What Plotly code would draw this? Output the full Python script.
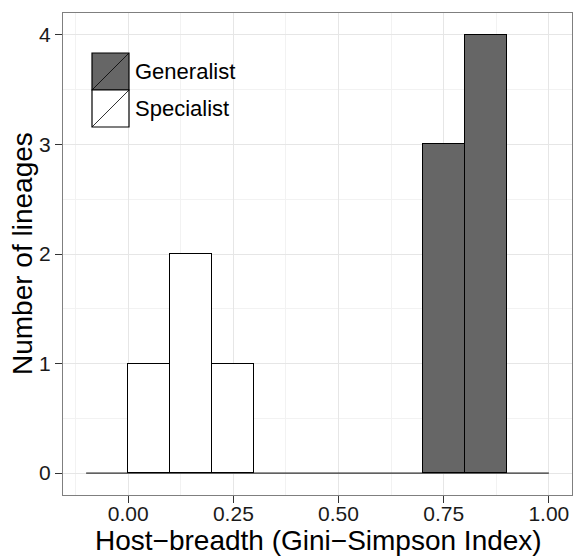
import plotly.graph_objects as go

# ---- data ----
bin_edges = [-0.1, 0.0, 0.1, 0.2, 0.3, 0.4, 0.5, 0.6, 0.7, 0.8, 0.9, 1.0]
generalist_counts = [0, 0, 0, 0, 0, 0, 0, 0, 3, 4, 0]
specialist_counts = [0, 1, 2, 1, 0, 0, 0, 0, 0, 0, 0]
groups = ["Generalist", "Specialist"]
group_colors = {"Generalist": "#666666", "Specialist": "#ffffff"}
x_ticks = [0.0, 0.25, 0.5, 0.75, 1.0]
x_tick_labels = ["0.00", "0.25", "0.50", "0.75", "1.00"]
y_ticks = [0, 1, 2, 3, 4]
x_title = "Host\u2212breadth (Gini\u2212Simpson Index)"
y_title = "Number of lineages"

centers = [(a + b) / 2 for a, b in zip(bin_edges[:-1], bin_edges[1:])]
widths = [b - a for a, b in zip(bin_edges[:-1], bin_edges[1:])]

fig = go.Figure()
for name, counts in [("Generalist", generalist_counts), ("Specialist", specialist_counts)]:
    xs = [c for c, n in zip(centers, counts) if n > 0]
    ws = [w for w, n in zip(widths, counts) if n > 0]
    ys = [n for n in counts if n > 0]
    fig.add_trace(go.Bar(
        x=xs, y=ys, width=ws, name=name,
        marker=dict(color=group_colors[name], line=dict(color="black", width=1)),
        showlegend=False,
    ))

# zero-height baseline of the histogram (outlined empty bins)
fig.add_trace(go.Scatter(
    x=[bin_edges[0], bin_edges[-1]], y=[0, 0], mode="lines",
    line=dict(color="black", width=1), showlegend=False, hoverinfo="skip",
))

# ---- manual ggplot-style legend ----
W, H = 574, 557
ml, mr, mt, mb = 63, 2, 13, 62
pw, ph = W - ml - mr, H - mt - mb

def px(x):
    return (x - ml) / pw

def py(y):
    return (H - mb - y) / ph

key_l, key_r = 92, 129
key_tops = [53, 90]
key_h = 37
shapes = []
annotations = []
for name, top in zip(groups, key_tops):
    shapes.append(dict(type="rect", xref="paper", yref="paper",
                       x0=px(key_l), x1=px(key_r), y0=py(top + key_h), y1=py(top),
                       fillcolor=group_colors[name], line=dict(color="black", width=1.2)))
    shapes.append(dict(type="line", xref="paper", yref="paper",
                       x0=px(key_l), x1=px(key_r), y0=py(top + key_h), y1=py(top),
                       line=dict(color="black", width=0.8)))
    annotations.append(dict(text=name, xref="paper", yref="paper",
                            x=px(key_r + 4), y=py(top + key_h / 2),
                            xanchor="left", yanchor="middle", showarrow=False,
                            font=dict(size=22, color="black")))

# axis titles
annotations.append(dict(text=x_title, xref="paper", yref="paper",
                        x=px(318), y=py(540), xanchor="center", yanchor="middle",
                        showarrow=False, font=dict(size=28, color="black")))
annotations.append(dict(text=y_title, xref="paper", yref="paper",
                        x=px(22), y=py(254), xanchor="center", yanchor="middle",
                        textangle=-90, showarrow=False, font=dict(size=28, color="black")))

axis_common = dict(
    showline=True, linecolor="#7f7f7f", linewidth=1, mirror=True,
    ticks="outside", ticklen=7, tickcolor="#333333", tickwidth=1,
    gridcolor="#e6e6e6", gridwidth=1, zeroline=False,
    tickfont=dict(size=21, color="#1a1a1a"),
)

fig.update_layout(
    width=W, height=H,
    margin=dict(l=ml, r=mr, t=mt, b=mb),
    paper_bgcolor="white", plot_bgcolor="white",
    font=dict(family="Liberation Sans, Arial, sans-serif", color="black"),
    barmode="stack", bargap=0,
    shapes=shapes, annotations=annotations,
    xaxis=dict(
        range=[-0.155, 1.055], tickvals=x_ticks, ticktext=x_tick_labels,
        ticklabelstandoff=-7,
        minor=dict(tickvals=[-0.125, 0.125, 0.375, 0.625, 0.875], showgrid=True,
                   gridcolor="#f2f2f2", gridwidth=1, ticks=""),
        **axis_common,
    ),
    yaxis=dict(
        range=[-0.2, 4.2], tickvals=y_ticks,
        minor=dict(tickvals=[0.5, 1.5, 2.5, 3.5], showgrid=True,
                   gridcolor="#f2f2f2", gridwidth=1, ticks=""),
        **axis_common,
    ),
)

fig.write_html("out.html")
